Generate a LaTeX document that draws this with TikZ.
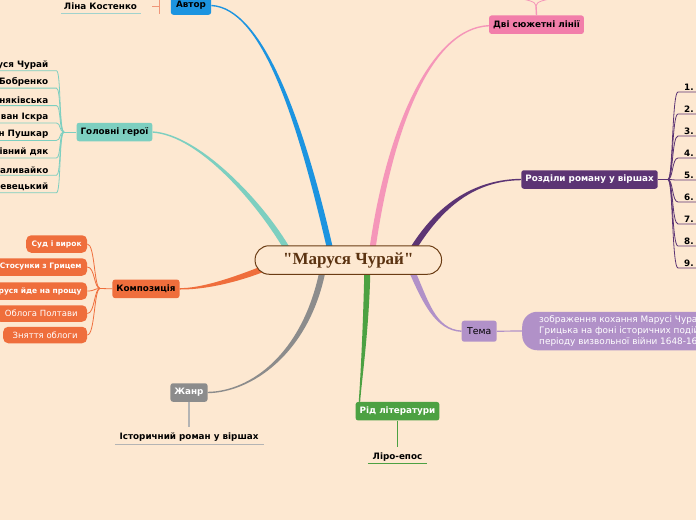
\documentclass[tikz,border=0pt]{standalone}
\usepackage{fontspec}
\setmainfont{DejaVu Sans}
\newfontfamily\titlefont{Liberation Serif}
\usetikzlibrary{calc}
\definecolor{bgc}{RGB}{253,232,209}
\definecolor{cblue}{RGB}{28,148,224}
\definecolor{cpink}{RGB}{242,126,170}
\definecolor{cpinkl}{RGB}{245,150,185}
\definecolor{cpurple}{RGB}{92,52,116}
\definecolor{clav}{RGB}{177,145,200}
\definecolor{cgreen}{RGB}{76,161,66}
\definecolor{cgray}{RGB}{140,140,140}
\definecolor{cgrayl}{RGB}{180,180,180}
\definecolor{corange}{RGB}{239,110,60}
\definecolor{cteal}{RGB}{125,207,192}
\definecolor{cbrown}{RGB}{107,60,20}
\definecolor{csalmon}{RGB}{240,150,120}
\definecolor{cline}{RGB}{160,210,205}
\newcommand\mmbranch[7]{%
  \path #2 coordinate (bS) #3 coordinate (bA) #4 coordinate (bB) #5 coordinate (bE);
  \coordinate (bSp) at ($(bS)!#6!90:(bA)$);
  \coordinate (bSm) at ($(bS)!#6!-90:(bA)$);
  \coordinate (bEp) at ($(bE)!#7!-90:(bB)$);
  \coordinate (bEm) at ($(bE)!#7!90:(bB)$);
  \fill[#1] (bSp) .. controls ($(bA)+(bSp)-(bS)$) and ($(bB)+(bEp)-(bE)$) .. (bEp)
     -- (bEm) .. controls ($(bB)+(bEm)-(bE)$) and ($(bA)+(bSm)-(bS)$) .. (bSm) -- cycle;
}
\begin{document}
\begin{tikzpicture}[x=1pt,y=-1pt,
  bfs/.style={font=\fontsize{8.8}{10}\selectfont\bfseries},
  bfk/.style={font=\fontsize{7.5}{9}\selectfont\bfseries},
  rgs/.style={font=\fontsize{8.5}{10}\selectfont},
  mm/.style={bfs, rounded corners=2.5pt, minimum height=18.5pt, inner xsep=4pt, inner ysep=0pt, text=black},
  kid/.style={bfk, rounded corners=5pt, minimum height=17.5pt, inner xsep=5.5pt, inner ysep=0pt, fill=corange, text=white, anchor=east},
  kidr/.style={kid, rgs, inner xsep=9.5pt, minimum height=16.5pt},
  hero/.style={bfs, anchor=south east, inner xsep=0pt, inner ysep=1.5pt},
  chap/.style={bfs, anchor=south west, inner xsep=0pt, inner ysep=1.5pt},
  leaf/.style={bfs, anchor=base, inner sep=0pt},
  thinc/.style={line width=0.8pt}]
\useasboundingbox (0,0) rectangle (696,520);
\fill[bgc] (0,0) rectangle (696,520);
\clip (0,0) rectangle (696,520);

\coordinate (c0) at (348.3,260);

% main topic nodes
\node[mm, fill=cblue, minimum width=40.3pt] (autor) at (191,5.5) {Автор};
\node[mm, fill=cpink, minimum width=91.6pt] (dvi) at (536.5,24.7) {Дві сюжетні лінії};
\node[mm, fill=cpurple, text=white, minimum width=135pt] (rozd) at (589.5,179.5) {Розділи роману у віршах};
\node[mm, font=\fontsize{9.3}{11}\selectfont, fill=clav, minimum width=35pt, minimum height=21pt] (tema) at (479.2,331.2) {Тема};
\node[mm, fill=cgreen, text=white, minimum width=83pt] (rid) at (397.5,411.2) {Рід літератури};
\node[mm, fill=cgray, text=white, minimum width=36.6pt] (zhanr) at (189,392.5) {Жанр};
\node[mm, fill=corange, minimum width=66.3pt] (komp) at (146,288.8) {Композиція};
\node[mm, fill=cteal, minimum width=75pt] (geroi) at (114.5,132) {Головні герої};

% main branches
\mmbranch{cteal}{($(c0)+(-60,-9)$)}{(262,205)}{(200,135)}{(geroi.east)}{3pt}{0.7pt}
\mmbranch{cblue}{($(c0)+(-18,-10)$)}{(300,118)}{(262,8)}{(autor.east)}{3pt}{0.7pt}
\mmbranch{cpinkl}{($(c0)+(24,-10)$)}{(390,125)}{(432,28)}{($(dvi.west)+(0,1)$)}{3pt}{0.7pt}
\mmbranch{cpurple}{($(c0)+(64,-10)$)}{(440,205)}{(475,180)}{(rozd.west)}{3pt}{0.7pt}
\mmbranch{clav}{($(c0)+(64,12)$)}{(425,300)}{(435,330)}{(tema.west)}{3pt}{0.7pt}
\mmbranch{cgreen}{($(c0)+(19,12)$)}{(366,330)}{(361,380)}{($(rid.north west)+(4,0)$)}{3pt}{0.7pt}
\mmbranch{cgray}{($(c0)+(-26,12)$)}{(305,355)}{(250,392)}{(zhanr.east)}{3pt}{0.7pt}
\mmbranch{corange}{($(c0)+(-83,8)$)}{(230,282)}{(200,289)}{(komp.east)}{3pt}{0.7pt}

% central node
\node[draw=cbrown, line width=1pt, fill=bgc, rounded corners=14pt, minimum width=186.5pt,
  minimum height=28.5pt, inner sep=0pt, text=cbrown!85!black,
  font=\titlefont\bfseries\fontsize{17}{20}\selectfont] (c) at (c0) {"Маруся Чурай"};

% Автор -> Ліна Костенко
\node[leaf] (lina) at (100.5,9.3) {Ліна Костенко};
\draw[cline, thinc] ($(lina.base west)+(-2.5,4)$) -- ($(lina.base east)+(3.5,4)$);
\coordinate (aj) at (159,6);
\coordinate (ajt) at (159,-5);
\coordinate (ajb) at (159,14);
\coordinate (linac) at (152,6);
\draw[csalmon, thinc] (ajt) -- (ajb);
\draw[csalmon, thinc] (aj) -- (linac);

% Дві сюжетні лінії (children above the page)
\coordinate (dj) at (536,6);
\coordinate (dl) at (512,-3);
\coordinate (dr) at (560,-3);
\draw[cpinkl, line width=1.4pt] (dvi.north) -- (dj);
\draw[cpinkl, thinc] (dj) .. controls (536,1) and (527,0) .. (dl);
\draw[cpinkl, thinc] (dj) .. controls (536,1) and (545,0) .. (dr);

% Головні герої
\coordinate (gj) at (64,132);
\draw[cteal, thinc] (geroi.west) -- (gj);
\foreach \n/\y/\t in {1/70.7/Маруся Чурай, 2/88.1/Гриць Бобренко, 3/105.6/Галя Вишняківська,
  4/123/Іван Іскра, 5/140.4/Мартин Пушкар, 6/157.9/Мандрівний дяк,
  7/175.3/Семен Наливайко, 8/192.7/Лесько Черевецький}{
  \node[hero] (h\n) at (48.5,\y) {\t};
  \draw[cteal, thinc] (gj) .. controls (59,132) and (61,\y) .. ($(h\n.south east)+(8,0)$)
     -- (h\n.south west) -- ++(-15,0);
}

% Розділи роману у віршах
\coordinate (rj) at (668,179.5);
\draw[cpurple, thinc] (rozd.east) -- (rj);
\foreach \n/\y in {1/92,2/114,3/136,4/158,5/180,6/202,7/224,8/246,9/268}{
  \node[chap] (r\n) at (684,\y) {\n.};
  \draw[cpurple, thinc] (rj) .. controls (673,179.5) and (672,\y) .. ($(r\n.south west)+(-6,0)$)
     -- (r\n.south east) -- ++(20,0);
}

% Тема
\node[anchor=west, fill=clav, rounded corners=15pt, minimum height=38.5pt, inner xsep=17pt,
  inner ysep=0pt, align=left, text=white, font=\fontsize{8.9}{11.3}\selectfont] (temat) at (522,331)
  {зображення кохання Марусі Чурай і\\Грицька на фоні історичних подій\\періоду визвольної війни 1648-1654 рр.};
\draw[clav, line width=1.2pt] (tema.east) -- (temat.west);

% Композиція
\coordinate (kj) at (100,288.5);
\draw[corange, thinc] (komp.west) -- (kj);
\node[kid] (k1) at (87.3,244) {Суд і вирок};
\node[kid] (k2) at (87.3,267) {Стосунки з Грицем};
\node[kid] (k3) at (87.3,291) {Маруся йде на прощу};
\node[kidr] (k4) at (87.3,313.5) {Облога Полтави};
\node[kidr] (k5) at (87.3,335) {Зняття облоги};
\foreach \n in {1,...,5}{
  \draw[corange, thinc] (kj) .. controls (94,288.5) and (95,0|-k\n.east) .. (k\n.east);
}

% Жанр
\node[leaf] (ist) at (189,439.3) {Історичний роман у віршах};
\draw[cgrayl, line width=1.4pt] (zhanr.south) -- ($(ist.north)+(0,-5)$);
\draw[cgrayl, thinc] ($(ist.base west)+(-4.5,5)$) -- ($(ist.base east)+(5.5,5)$);

% Рід літератури
\node[leaf] (liro) at (397.5,459) {Ліро-епос};
\draw[cgreen, thinc] (rid.south) -- ($(liro.north)+(0,-5)$);
\draw[cgreen, thinc] ($(liro.base west)+(-4.5,4.3)$) -- ($(liro.base east)+(4.5,4.3)$);
\end{tikzpicture}
\end{document}
